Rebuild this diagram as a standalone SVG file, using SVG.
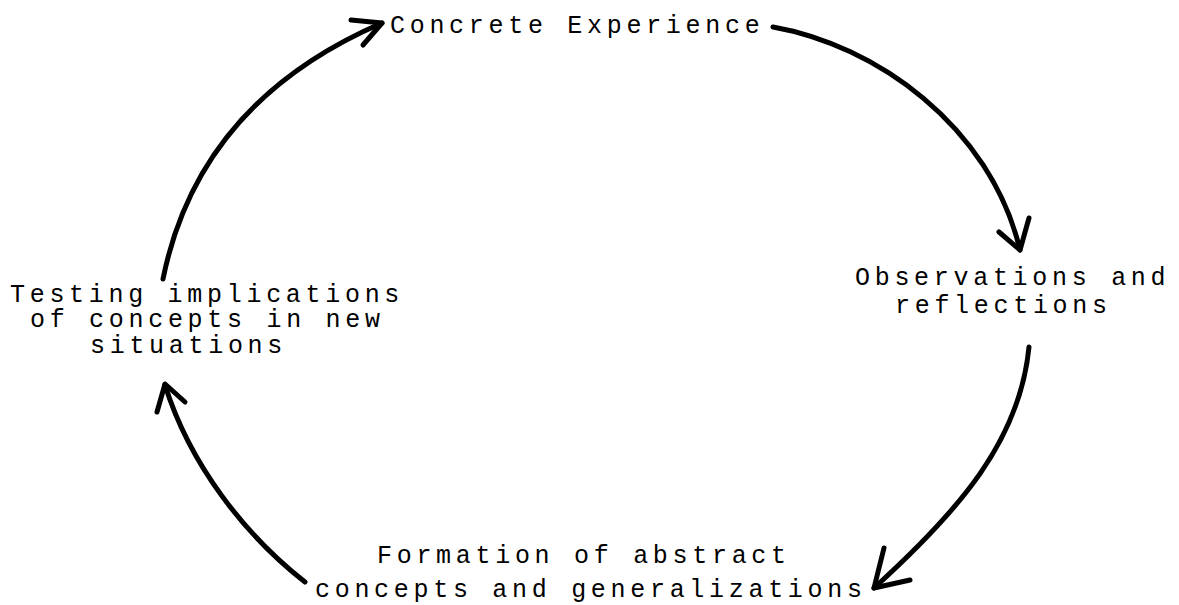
<svg xmlns="http://www.w3.org/2000/svg" width="1179" height="605" viewBox="0 0 1179 605">
<style>
  .lbl { font-family: "Liberation Mono", "DejaVu Sans Mono", monospace; font-size: 25px; letter-spacing: 4.7px; fill: #000; }
  .edge { fill: none; stroke: #000; stroke-width: 5; stroke-linecap: round; stroke-linejoin: round; }
</style>
<rect width="1179" height="605" fill="#fff"/>
<g id="connectors">
  <path class="edge" d="M163,279 C185,170 250,80 382,23"/>
  <path class="edge" d="M351,20 L382,23 L363,45"/>
  <path class="edge" d="M773,27 C875,45 990,125 1020,250"/>
  <path class="edge" d="M999,232 L1020,250 L1029,218"/>
  <path class="edge" d="M1029,347 C1020,440 960,510 874,588"/>
  <path class="edge" d="M884,548 L874,588 L910,580"/>
  <path class="edge" d="M305,582 C245,535 190,465 165,385"/>
  <path class="edge" d="M157,412 L165,384 L185,402"/>
</g>
<g id="node-concrete">
  <text class="lbl" x="390" y="33">Concrete Experience</text>
</g>
<g id="node-observations">
  <text class="lbl" x="855" y="285">Observations and</text>
  <text class="lbl" x="895" y="313">reflections</text>
</g>
<g id="node-formation">
  <text class="lbl" x="377" y="563">Formation of abstract</text>
  <text class="lbl" x="315" y="597">concepts and generalizations</text>
</g>
<g id="node-testing">
  <text class="lbl" x="10" y="302">Testing implications</text>
  <text class="lbl" x="30" y="327">of concepts in new</text>
  <text class="lbl" x="90" y="353">situations</text>
</g>
</svg>
